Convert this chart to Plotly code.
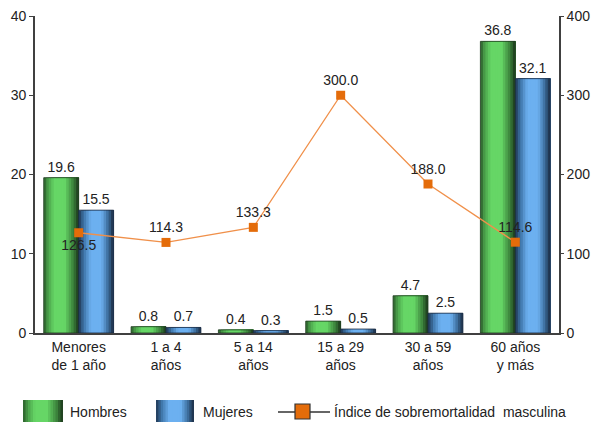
import plotly.graph_objects as go

# Grupos de edad y valores
categorias = ["Menores<br>de 1 año", "1 a 4<br>años", "5 a 14<br>años",
              "15 a 29<br>años", "30 a 59<br>años", "60 años<br>y más"]
hombres = [19.6, 0.8, 0.4, 1.5, 4.7, 36.8]
mujeres = [15.5, 0.7, 0.3, 0.5, 2.5, 32.1]
indice = [126.5, 114.3, 133.3, 300.0, 188.0, 114.6]
indice_pos = ["bottom center", "top center", "top center",
              "top center", "top center", "top center"]

FONT = "Liberation Sans, Arial, sans-serif"
TXT = "#222222"
AXIS = "#404040"
ORANGE = "#E46C0A"
LINE_ORANGE = "#F0904A"

# Degradado horizontal de las barras (posición relativa, color)
GRAD_VERDE = [(0.0, (0x2a, 0x5a, 0x2a)), (0.12, (0x4a, 0xa0, 0x4a)),
              (0.3, (0x66, 0xd6, 0x66)), (0.6, (0x66, 0xd6, 0x66)),
              (0.85, (0x3a, 0x80, 0x3a)), (1.0, (0x1a, 0x34, 0x1a))]
GRAD_AZUL = [(0.0, (0x1f, 0x36, 0x52)), (0.15, (0x3f, 0x76, 0xaa)),
             (0.35, (0x6c, 0xb0, 0xf0)), (0.65, (0x6c, 0xb0, 0xf0)),
             (0.85, (0x3a, 0x6a, 0x98)), (1.0, (0x1a, 0x2a, 0x40))]


def color_en(stops, t):
    for (t0, c0), (t1, c1) in zip(stops, stops[1:]):
        if t0 <= t <= t1:
            f = (t - t0) / (t1 - t0) if t1 > t0 else 0
            c = [round(a + (b - a) * f) for a, b in zip(c0, c1)]
            return "rgb(%d,%d,%d)" % tuple(c)
    return "rgb(%d,%d,%d)" % stops[-1][1]


N = 14
BW = 0.4  # ancho de cada barra en unidades de categoría

fig = go.Figure()


def barras(valores, inicio, stops, borde):
    w = BW / N
    # cada franja llega hasta el borde derecho; la siguiente tapa el resto
    for i in range(N):
        t = (i + 0.5) / N
        fig.add_trace(go.Bar(
            x=categorias, y=valores, offset=inicio + i * w, width=BW - i * w,
            marker=dict(color=color_en(stops, t), line=dict(width=0)),
            showlegend=False, hoverinfo="skip"))
    # contorno y etiqueta de valor
    fig.add_trace(go.Bar(
        x=categorias, y=valores, offset=inicio, width=BW,
        marker=dict(color="rgba(0,0,0,0)", line=dict(color=borde, width=0.8)),
        text=["%.1f" % v for v in valores], textposition="outside",
        textfont=dict(family=FONT, size=14, color=TXT),
        cliponaxis=False, showlegend=False))


barras(hombres, -BW, GRAD_VERDE, "#1e3a1e")
barras(mujeres, 0.0, GRAD_AZUL, "#1a2a40")

fig.add_trace(go.Scatter(
    x=categorias, y=indice, yaxis="y2", mode="lines+markers+text",
    line=dict(color=LINE_ORANGE, width=1.3),
    marker=dict(symbol="square", size=9, color=ORANGE),
    text=["%.1f" % v for v in indice], textposition=indice_pos,
    textfont=dict(family=FONT, size=14, color=TXT),
    cliponaxis=False, showlegend=False))

# Márgenes en píxeles del área de trazado
W, H = 591, 422
L, R, T, B = 35, 32, 16, 89
PW, PH = W - L - R, H - T - B


def px(xp):
    return (xp - L) / PW


def py(yp):
    return (H - B - yp) / PH


shapes = []
annotations = []


def muestra(x0, x1, y0, y1, stops):
    n = 16
    w = (x1 - x0) / n
    for i in range(n):
        t = (i + 0.5) / n
        shapes.append(dict(type="rect", xref="paper", yref="paper",
                           x0=px(x0 + i * w), x1=px(x1),
                           y0=py(y1), y1=py(y0),
                           fillcolor=color_en(stops, t), line=dict(width=0)))


muestra(23, 63, 400, 424, GRAD_VERDE)
muestra(156, 194, 400, 424, GRAD_AZUL)
shapes.append(dict(type="line", xref="paper", yref="paper",
                   x0=px(278), x1=px(330), y0=py(412), y1=py(412),
                   line=dict(color="#333333", width=1.3)))
shapes.append(dict(type="rect", xref="paper", yref="paper",
                   x0=px(295), x1=px(310), y0=py(419), y1=py(404),
                   fillcolor=ORANGE, line=dict(color="#333333", width=1.2)))

for xt, texto in [(68, "Hombres"), (201, "Mujeres"),
                  (332, "Índice de sobremortalidad\u00a0 masculina")]:
    annotations.append(dict(text=texto, xref="paper", yref="paper",
                            x=px(xt), y=py(412), xanchor="left", yanchor="middle",
                            showarrow=False,
                            font=dict(family=FONT, size=14, color=TXT)))

eje_y = dict(showgrid=False, zeroline=False, showline=True, linecolor=AXIS,
             linewidth=1.6, ticks="outside", tickcolor=AXIS,
             tickwidth=1.2, tickfont=dict(family=FONT, size=14, color=TXT),
             automargin=False)

fig.update_layout(
    width=W, height=H, margin=dict(l=L, r=R, t=T, b=B),
    paper_bgcolor="white", plot_bgcolor="white",
    barmode="overlay", showlegend=False,
    xaxis=dict(type="category", showline=True, linecolor=AXIS, linewidth=1.6,
               ticks="", showgrid=False, zeroline=False,
               tickfont=dict(family=FONT, size=14, color=TXT),
               automargin=False),
    yaxis=dict(range=[0, 40], dtick=10, ticklen=4, **eje_y),
    yaxis2=dict(range=[0, 400], dtick=100, ticklen=3, overlaying="y",
                side="right", **eje_y),
    shapes=shapes, annotations=annotations,
)

fig.write_html("out.html")
